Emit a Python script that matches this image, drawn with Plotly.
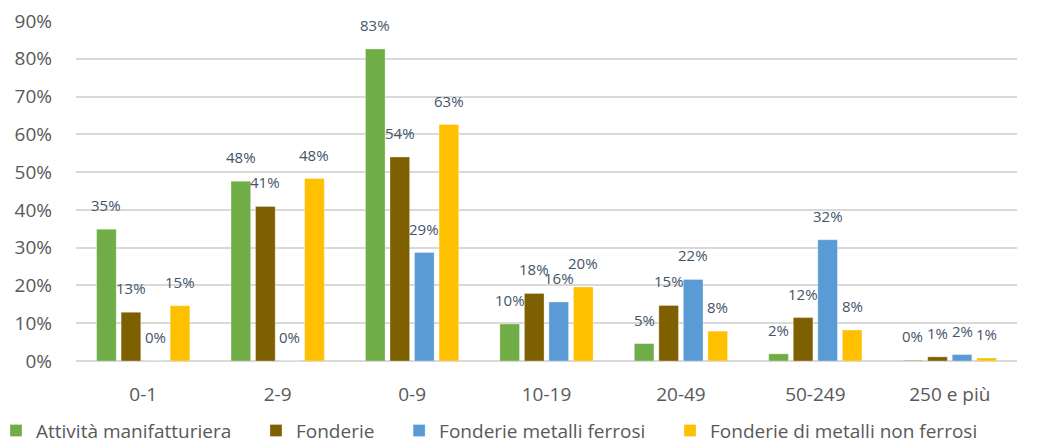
import plotly.graph_objects as go

# Size classes (number of employees)
categories = ["0-1", "2-9", "0-9", "10-19", "20-49", "50-249", "250 e più"]

# Share of firms per size class, in percent
attivita_manifatturiera = [34.9, 47.6, 82.6, 9.8, 4.6, 1.9, 0.2]
fonderie = [12.9, 40.9, 54.0, 17.9, 14.7, 11.5, 1.1]
fonderie_metalli_ferrosi = [0.0, 0.0, 28.7, 15.6, 21.6, 32.1, 1.7]
fonderie_non_ferrosi = [14.6, 48.3, 62.6, 19.6, 7.9, 8.2, 0.8]

series = [
    ("Attività manifatturiera", attivita_manifatturiera, "#70AD47"),
    ("Fonderie", fonderie, "#7F6000"),
    ("Fonderie metalli ferrosi", fonderie_metalli_ferrosi, "#5B9BD5"),
    ("Fonderie di metalli non ferrosi", fonderie_non_ferrosi, "#FFC000"),
]

y_ticks = [0, 10, 20, 30, 40, 50, 60, 70, 80, 90]
y_tick_labels = [f"{v}%" for v in y_ticks]

WIDTH, HEIGHT = 1053, 446
MARGIN_L, MARGIN_R, MARGIN_T, MARGIN_B = 76, 36, 21, 85
BARGAP, BARGROUPGAP = 0.27, 0.2

# trailing non-breaking spaces widen the gap between legend entries
legend_pad = "\u00a0" * 4

fig = go.Figure()
for name, values, color in series:
    fig.add_trace(go.Bar(
        name=name + legend_pad,
        x=categories,
        y=values,
        marker=dict(color=color, line=dict(color="rgba(255,255,255,0.6)", width=0.5)),
    ))

# value labels above each bar, shifted sideways to sit over their own bar
plot_w = WIDTH - MARGIN_L - MARGIN_R
slot_px = plot_w / len(categories) * (1 - BARGAP) / len(series)
for i, (name, values, color) in enumerate(series):
    shift = (i - (len(series) - 1) / 2) * slot_px
    for cat, v in zip(categories, values):
        fig.add_annotation(
            x=cat, y=v, text=f"{round(v)}%",
            xshift=shift, yshift=12,
            yanchor="bottom", showarrow=False,
            font=dict(family="Open Sans", size=15, color="#44546A"),
        )

fig.update_layout(
    width=WIDTH,
    height=HEIGHT,
    margin=dict(l=MARGIN_L, r=MARGIN_R, t=MARGIN_T, b=MARGIN_B, autoexpand=False),
    plot_bgcolor="white",
    paper_bgcolor="white",
    barmode="group",
    bargap=BARGAP,
    bargroupgap=BARGROUPGAP,
    font=dict(family="Open Sans", color="#595959"),
    showlegend=True,
    legend=dict(
        orientation="h",
        x=-0.085,
        xanchor="left",
        y=-0.205,
        yanchor="middle",
        font=dict(size=19, color="#595959"),
        itemwidth=30,
        tracegroupgap=0,
    ),
    xaxis=dict(
        automargin=False,
        showgrid=False,
        showline=False,
        ticks="",
        tickfont=dict(size=19, color="#595959"),
        ticklabelstandoff=20,
    ),
    yaxis=dict(
        automargin=False,
        range=[0, 90],
        tickmode="array",
        tickvals=y_ticks,
        ticktext=y_tick_labels,
        showgrid=True,
        gridcolor="#D9D9D9",
        gridwidth=1.5,
        zeroline=True,
        zerolinecolor="#D9D9D9",
        zerolinewidth=1.5,
        showline=False,
        tickfont=dict(size=19, color="#595959"),
        ticklabelstandoff=23,
    ),
)

fig.write_html("out.html")
